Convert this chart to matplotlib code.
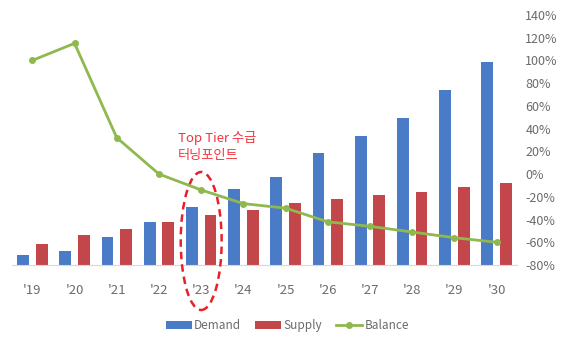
import matplotlib.pyplot as plt
from matplotlib.patches import Ellipse
import numpy as np

plt.rcParams['font.family'] = ['Noto Sans CJK KR', 'DejaVu Sans']

# --- data ---
years = ["'19", "'20", "'21", "'22", "'23", "'24", "'25", "'26", "'27", "'28", "'29", "'30"]
demand = [10, 14, 28, 43, 58, 76, 88, 112, 129, 147, 175, 203]
supply = [21, 30, 36, 43, 50, 55, 62, 66, 70, 73, 78, 82]
balance = [100, 115, 32, 0, -14, -26, -30, -42, -46, -51, -56, -60]

BLUE = '#4a7bc6'
RED = '#c3464b'
GREEN = '#8fb84e'
GRAY = '#6b6b6b'

fig = plt.figure(figsize=(5.75, 3.4), dpi=100)
ax = fig.add_axes([0.021, 0.2206, 0.878, 0.7355])
x = np.arange(len(years))
w = 0.28
ax.bar(x - 0.22, demand, w, color=BLUE, label='Demand', zorder=2)
ax.bar(x + 0.22, supply, w, color=RED, label='Supply', zorder=2)
ax.set_ylim(0, 250)
ax.set_xlim(-0.48, len(years) - 0.52)
ax.set_yticks([])
for s in ['top', 'left', 'right']:
    ax.spines[s].set_visible(False)
ax.spines['bottom'].set_color('#d9d9d9')
ax.set_xticks(x)
ax.set_xticklabels(years, color=GRAY, fontsize=9.5)
ax.tick_params(axis='x', length=0, pad=14)

ax2 = ax.twinx()
ax2.plot(x, balance, color=GREEN, lw=2, marker='o', ms=4, label='Balance', zorder=3)
ax2.set_ylim(-80, 140)
ax2.set_yticks(np.arange(-80, 141, 20))
ax2.set_yticklabels([f'{v}%' for v in range(-80, 141, 20)], color=GRAY, fontsize=9)
ax2.tick_params(axis='y', length=0, pad=6)
for s in ax2.spines.values():
    s.set_visible(False)

# annotation around '23
ax.add_patch(Ellipse((4, 24), 0.97, 138, fill=False, ec='#e8202a', lw=1.8,
                     ls=(0, (3, 2)), clip_on=False, zorder=4))
ax.text(3.45, 118, 'Top Tier 수급\n터닝포인트', color='#f0353f', fontsize=9.5,
        ha='left', va='center', linespacing=1.4)

h1, l1 = ax.get_legend_handles_labels()
h2, l2 = ax2.get_legend_handles_labels()
fig.legend(h1 + h2, l1 + l2, loc='center', bbox_to_anchor=(0.5, 0.043), ncol=3,
           frameon=False, fontsize=8.5, handlelength=2.2, handletextpad=0.2,
           columnspacing=1.2, labelcolor=GRAY)

fig.savefig('out.png', dpi=100)
